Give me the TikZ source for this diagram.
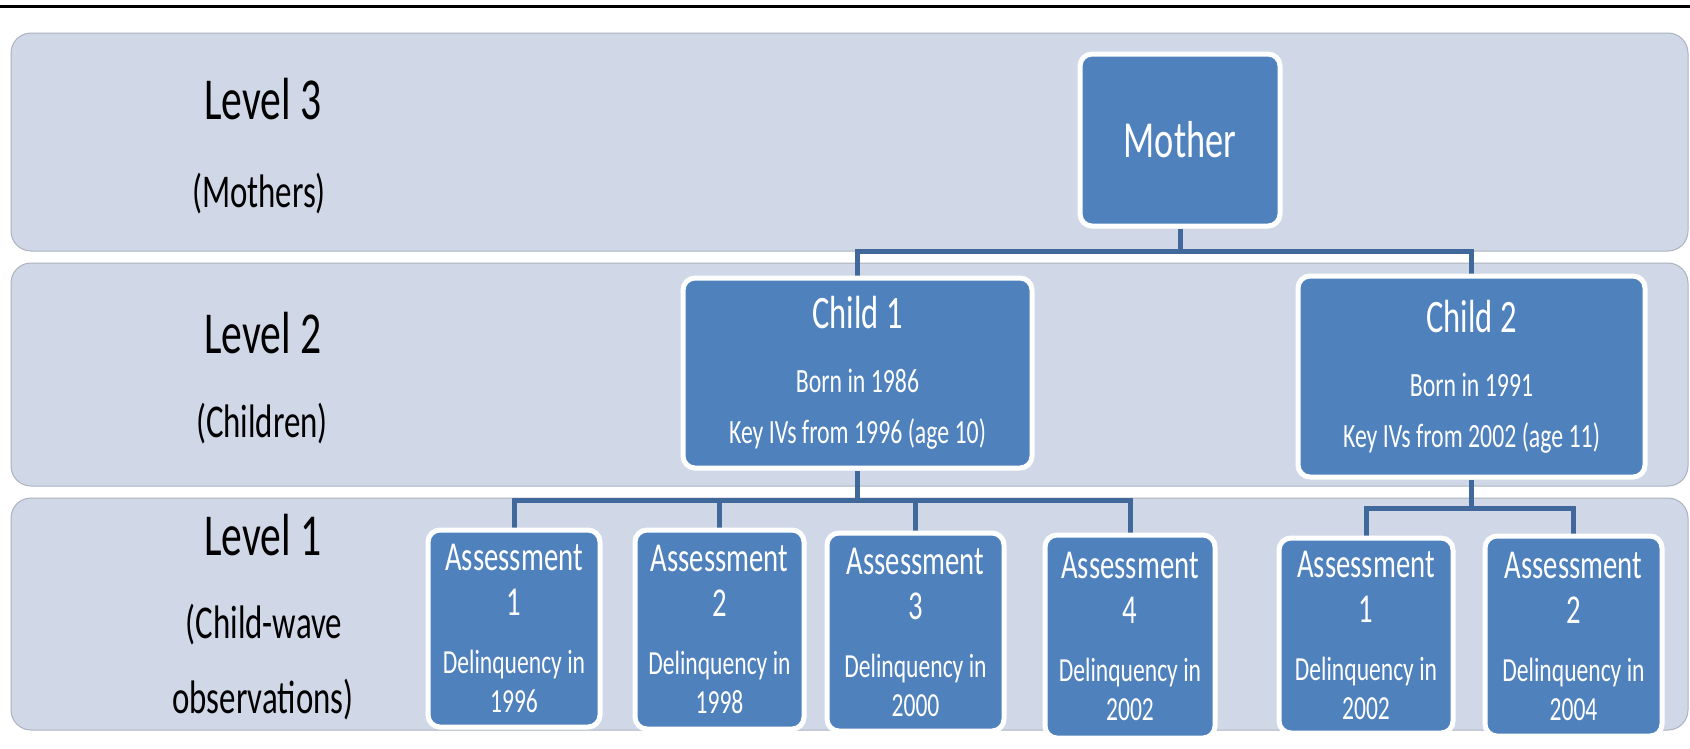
\documentclass[tikz,border=0pt]{standalone}
\usepackage{fontspec}
\newfontfamily\cf[FakeStretch=0.70]{Carlito}
\usetikzlibrary{calc}
\definecolor{bandfill}{RGB}{208,216,232}
\definecolor{bandline}{RGB}{172,178,190}
\definecolor{boxblue}{RGB}{79,129,189}
\definecolor{connblue}{RGB}{65,104,154}
\pgfdeclarelayer{back}\pgfdeclarelayer{mid}\pgfsetlayers{back,mid,main}
\tikzset{
  band/.style={fill=bandfill, draw=bandline, line width=1pt, rounded corners=20pt},
  box/.style={draw=white, line width=5pt, fill=boxblue, rounded corners=12pt, inner sep=0pt, align=flush center, text=white, font=\cf},
  asmbox/.style={box, font=\cf\fontsize{41}{39}\selectfont},
  chbox/.style={box, font=\cf\fontsize{46.5}{40}\selectfont},
  conn/.style={draw=connblue, line width=5pt},
  lvl/.style={anchor=base, inner sep=0pt, font=\cf\fontsize{59.5}{60}\selectfont, text=black},
  sublbl/.style={anchor=base, inner sep=0pt, font=\cf\fontsize{47}{50}\selectfont, text=black},
}
\newcommand{\asm}[2]{\fontsize{41}{39}\selectfont Assessment\\[6pt]#1\\[19pt]\fontsize{33.7}{39}\selectfont Delinquency in\\#2}
\newcommand{\chld}[3]{\fontsize{46.5}{40}\selectfont Child #1\\[24pt]\fontsize{34}{40}\selectfont Born in #2\\[11pt]Key IVs from #3}
\begin{document}
\begin{tikzpicture}[x=1pt,y=-1pt]
\useasboundingbox (0,0) rectangle (1690,748);
\begin{pgfonlayer}{back}
\fill[white] (0,0) rectangle (1690,748);
\draw[black, line width=3pt] (0,6.7) -- (1690,6.7);
\draw[band] (11,33) rectangle (1688,251);
\draw[band] (11,263) rectangle (1688,486);
\draw[band] (11,498) rectangle (1688,730);
\end{pgfonlayer}
% left labels
\node[lvl] (l3) at (263,119) {Level 3};
\node[sublbl] (l3s) at (259,207) {(Mothers)};
\node[lvl] (l2) at (263,353) {Level 2};
\node[sublbl] (l2s) at (262,437) {(Children)};
\node[lvl] (l1) at (263,555) {Level 1};
\node[sublbl] (l1s) at (264,638) {(Child-wave};
\node[sublbl] (l1t) at (263,713) {observations)};
% boxes
\node[box, text width=200pt, minimum height=172pt] (M) at (1180,140) {\fontsize{52}{52}\selectfont Mother};
\node[chbox, text width=349pt, minimum height=190pt] (C1) at (857.5,373) {\chld{1}{1986}{1996 (age 10)}};
\node[chbox, text width=347pt, minimum height=201pt] (C2) at (1471.5,376.5) {\chld{2}{1991}{2002 (age 11)}};
\node[asmbox, text width=172pt, minimum height=197pt] (A1) at (514,628.5) {\asm{1}{1996}};
\node[asmbox, text width=169pt, minimum height=199pt] (A2) at (719.5,629.5) {\asm{2}{1998}};
\node[asmbox, text width=177pt, minimum height=198pt] (A3) at (915.5,632) {\asm{3}{2000}};
\node[asmbox, text width=170pt, minimum height=203pt] (A4) at (1130,636.5) {\asm{4}{2002}};
\node[asmbox, text width=174pt, minimum height=195pt] (B1) at (1366,635.5) {\asm{1}{2002}};
\node[asmbox, text width=177pt, minimum height=200pt] (B2) at (1573.5,636) {\asm{2}{2004}};
% connectors
\begin{pgfonlayer}{mid}
\coordinate (jm) at (1180,251);
\coordinate (j1) at (857.5,500);
\coordinate (j2) at (1471.5,508);
\draw[conn] (M.south) -- (jm);
\draw[conn] (jm) -| (C1.north);
\draw[conn] (jm) -| (C2.north);
\draw[conn] (C1.south) -- (j1);
\foreach \n in {A1,A2,A3,A4} \draw[conn] (j1) -| (\n.north);
\draw[conn] (C2.south) -- (j2);
\foreach \n in {B1,B2} \draw[conn] (j2) -| (\n.north);
\end{pgfonlayer}
\end{tikzpicture}
\end{document}
